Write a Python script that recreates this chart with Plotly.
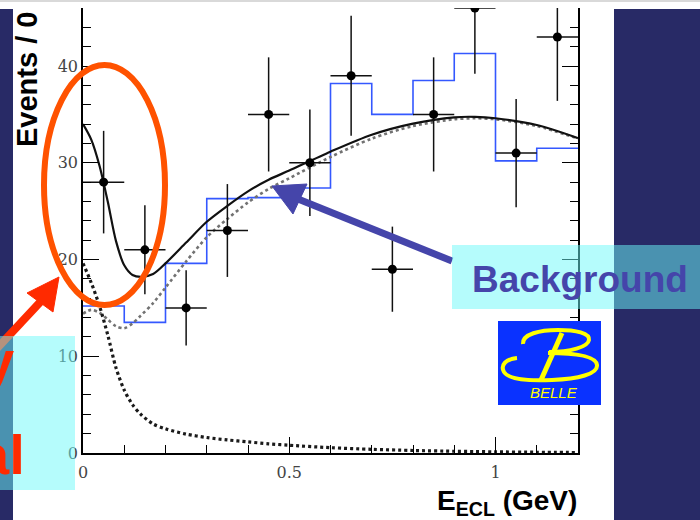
import plotly.graph_objects as go

# ---------------- data ----------------
# data points (bin centres, counts, Poisson errors)
bin_centers = [0.05, 0.15, 0.25, 0.35, 0.45, 0.55, 0.65, 0.75, 0.85, 0.95, 1.05, 1.15]
data_counts = [28, 21, 15, 23, 35, 30, 39, 19, 35, 46, 31, 43]
data_errors = [5.3, 4.6, 3.9, 4.8, 5.9, 5.5, 6.2, 4.4, 5.9, 6.8, 5.6, 6.6]
bin_half_width = 0.05

# blue histogram (bin left edges and contents)
hist_edges = [0.0, 0.1, 0.2, 0.3, 0.4, 0.5, 0.6, 0.7, 0.8, 0.9, 1.0, 1.1, 1.2]
hist_counts = [15.2, 13.5, 19.6, 26.3, 26.4, 27.4, 38.2, 35.0, 38.5, 41.3, 30.2, 31.5]

# fit curves
curve_x = [0.00, 0.02, 0.04, 0.06, 0.08, 0.10, 0.12, 0.14, 0.17, 0.20, 0.25, 0.30,
           0.35, 0.40, 0.45, 0.50, 0.60, 0.70, 0.80, 0.90, 0.95, 1.00, 1.10, 1.20]
signal_y = [19.6, 17.6, 15.2, 12.2, 8.8, 6.5, 5.0, 4.0, 3.0, 2.5, 1.95, 1.6,
            1.35, 1.15, 0.95, 0.8, 0.55, 0.38, 0.26, 0.18, 0.15, 0.12, 0.08, 0.05]
background_y = [14.4, 14.8, 14.5, 13.8, 13.1, 12.9, 13.4, 14.2, 15.5, 17.1, 19.8, 22.3,
                24.2, 25.9, 27.3, 28.4, 30.6, 32.5, 33.8, 34.5, 34.6, 34.5, 33.8, 32.5]
total_y = [34.0, 32.4, 29.7, 26.0, 21.9, 19.4, 18.4, 18.2, 18.5, 19.6, 21.75, 23.9,
           25.55, 27.05, 28.25, 29.2, 31.15, 32.9, 34.05, 34.7, 34.75, 34.6, 33.9, 32.55]

x_tick_vals = [0, 0.5, 1]
x_tick_text = ["0", "0.5", "1"]
y_tick_vals = [0, 10, 20, 30, 40]
y_tick_text = ["0", "10", "20", "30", "40"]

# ---------------- figure geometry (pixels) ----------------
W, H = 700, 520
PL, PR, PT, PB = 83, 578, 8, 453


def fx(px):
    return (px - PL) / (PR - PL)


def fy(py):
    return (PB - py) / (PB - PT)


def path_str(cmds):
    out = []
    for op, pts in cmds:
        coords = " ".join(f"{fx(x):.5f},{fy(y):.5f}" for x, y in pts)
        out.append(f"{op} {coords}")
    return " ".join(out)


fig = go.Figure()

# histogram drawn as steps
fig.add_trace(go.Scatter(
    x=hist_edges, y=hist_counts + [hist_counts[-1]], mode="lines",
    line=dict(color="#3458ff", width=1.6, shape="hv"), hoverinfo="skip"))

# background component
fig.add_trace(go.Scatter(
    x=curve_x, y=background_y, mode="lines",
    line=dict(color="#727272", width=2.6, dash="dot", shape="spline", smoothing=0.8)))

# signal component
fig.add_trace(go.Scatter(
    x=curve_x, y=signal_y, mode="lines",
    line=dict(color="#1a1a1a", width=3.2, dash="3px,3px", shape="spline", smoothing=0.8)))

# total fit
fig.add_trace(go.Scatter(
    x=curve_x, y=total_y, mode="lines",
    line=dict(color="#111111", width=2.2, shape="spline", smoothing=0.8)))

# data with error bars
fig.add_trace(go.Scatter(
    x=bin_centers, y=data_counts, mode="markers",
    marker=dict(color="black", size=9),
    error_y=dict(type="data", array=data_errors, visible=True,
                 color="#111111", thickness=1.5, width=0),
    error_x=dict(type="constant", value=bin_half_width, visible=True,
                 color="#111111", thickness=1.5, width=0)))

tickfont = dict(family="DejaVu Serif", size=16, color="#444444")

fig.update_layout(
    width=W, height=H,
    margin=dict(l=PL, r=W - PR, t=PT, b=H - PB, pad=0),
    paper_bgcolor="white", plot_bgcolor="white",
    showlegend=False,
    xaxis=dict(range=[0, 1.2], showline=True, linecolor="black", linewidth=1.5,
               ticks="inside", ticklen=16, tickwidth=1.2, tickcolor="black",
               tickvals=x_tick_vals, ticktext=x_tick_text,
               minor=dict(dtick=0.1, tick0=0, ticks="inside", ticklen=8,
                          tickwidth=1.2, tickcolor="black"),
               showgrid=False, zeroline=False, mirror=False,
               tickfont=tickfont, ticklabelstandoff=4),
    yaxis=dict(range=[0, 46], showline=True, linecolor="black", linewidth=1.5,
               ticks="inside", ticklen=16, tickwidth=1.2, tickcolor="black",
               tickvals=y_tick_vals, ticktext=y_tick_text,
               minor=dict(dtick=2, tick0=0, ticks="inside", ticklen=8,
                          tickwidth=1.2, tickcolor="black"),
               showgrid=False, zeroline=False, mirror="ticks",
               tickfont=tickfont, ticklabelstandoff=0),
)

NAVY = "#282a66"
CYAN = "rgba(108,250,250,0.5)"
RED = "#ff2a00"
ORANGE = "#ff5200"
PURPLE = "#4545aa"
YELLOW = "#ffff00"


def rect(x0, y0, x1, y1, fill):
    return dict(type="rect", xref="paper", yref="paper", layer="above",
                x0=fx(x0), x1=fx(x1), y0=fy(y1), y1=fy(y0),
                fillcolor=fill, line=dict(width=0))


def line(x0, y0, x1, y1, color, width):
    return dict(type="line", xref="paper", yref="paper", layer="above",
                x0=fx(x0), y0=fy(y0), x1=fx(x1), y1=fy(y1),
                line=dict(color=color, width=width))


def poly(pts, color):
    return dict(type="path", xref="paper", yref="paper", layer="above",
                path=path_str([("M", [pts[0]])] + [("L", [p]) for p in pts[1:]]) + " Z",
                fillcolor=color, line=dict(color=color, width=1))


def curve(cmds, color, width):
    return dict(type="path", xref="paper", yref="paper", layer="above",
                path=path_str(cmds), line=dict(color=color, width=width))


shapes = [
    rect(0, 0, 700, 2, "#d9d9d9"),
    rect(0, 9, 13, 520, NAVY),
    rect(614, 9, 700, 520, NAVY),
    # highlight ellipse round the low-energy peak
    dict(type="circle", xref="paper", yref="paper", layer="above",
         x0=fx(44), x1=fx(165), y0=fy(305), y1=fy(65),
         line=dict(color=ORANGE, width=6)),
    # red arrow
    line(-12, 358, 44, 298, RED, 8),
    poly([(59, 277), (27, 293), (53, 312)], RED),
    # purple arrow
    line(452, 261, 298, 199, PURPLE, 7),
    poly([(272, 186), (307, 184), (293, 214)], PURPLE),
    # label boxes
    rect(0, 336, 75, 490, CYAN),
    rect(452, 245, 700, 309, CYAN),
    # Belle logo
    rect(498, 321, 601, 405, "#0a32ff"),
    curve([("M", [(523, 344)]),
           ("C", [(522, 334), (540, 330), (558, 330)]),
           ("C", [(576, 330), (590, 333), (589, 340)]),
           ("C", [(588, 347), (570, 352), (549, 352)])], YELLOW, 4),
    curve([("M", [(517, 358)]),
           ("C", [(506, 359), (500, 365), (504, 372)]),
           ("C", [(509, 380), (530, 381), (552, 380)]),
           ("C", [(578, 379), (598, 374), (597, 365)]),
           ("C", [(596, 356), (575, 353), (548, 353)])], YELLOW, 4),
    line(562, 333, 541, 380, YELLOW, 5),
]
fig.update_layout(shapes=shapes)

annotations = [
    dict(text="<b>y</b>", x=fx(16), y=fy(360), xanchor="right", yanchor="middle",
         font=dict(family="Liberation Sans", size=56, color=RED)),
    dict(text="<b>al</b>", x=fx(27), y=fy(454), xanchor="right", yanchor="middle",
         font=dict(family="Liberation Sans", size=56, color=RED)),
    dict(text="<b>Background</b>", x=fx(580), y=fy(279), xanchor="center", yanchor="middle",
         font=dict(family="Liberation Sans", size=37, color=PURPLE)),
    dict(text="<i>BELLE</i>", x=fx(554), y=fy(392), xanchor="center", yanchor="middle",
         font=dict(family="Liberation Sans", size=15, color=YELLOW)),
    dict(text="<b>Events / 0</b>", x=fx(27), y=fy(80), xanchor="center", yanchor="middle",
         textangle=-90, font=dict(family="Liberation Sans", size=29, color="black")),
    dict(text="<b>E<sub>ECL</sub> (GeV)</b>", x=fx(579), y=fy(502), xanchor="right",
         yanchor="middle", font=dict(family="Liberation Sans", size=28, color="black")),
]
for a in annotations:
    a.update(xref="paper", yref="paper", showarrow=False)
fig.update_layout(annotations=annotations)

fig.write_html("out.html")
